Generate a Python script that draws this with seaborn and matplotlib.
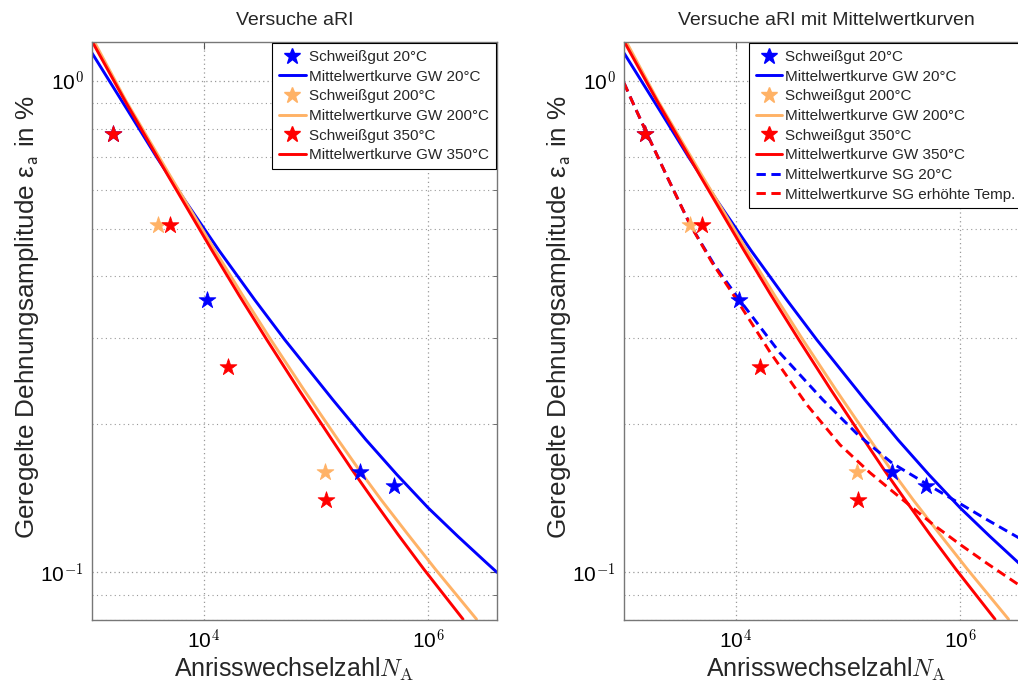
import matplotlib
matplotlib.use("Agg")
import matplotlib.pyplot as plt
import seaborn as sns
import pandas as pd
from matplotlib.lines import Line2D
from matplotlib.ticker import FixedLocator, NullLocator, FixedFormatter

# ---------------- data ----------------
sg20_N = [1540, 10640, 247000, 497000]
sg20_eps = [0.781, 0.359, 0.160, 0.150]
sg200_N = [3882, 120200]
sg200_eps = [0.510, 0.160]
sg350_N = [1540, 4970, 16370, 122700]
sg350_eps = [0.781, 0.508, 0.262, 0.1406]

gw20_N = [1000, 2096, 3805, 6767, 13614, 28540, 52870, 141800, 279500, 528700,
          1.0e6, 1.853e6, 3.296e6, 4.131e6]
gw20_eps = [1.1396, 0.8692, 0.6978, 0.5709, 0.4519, 0.3579, 0.2970, 0.2243, 0.1861,
            0.1580, 0.1354, 0.1183, 0.1048, 0.100]
gw200_N = [1064, 2012, 4971, 12537, 22070, 39651, 78150, 157200, 242000, 380600,
           662900, 1.167e6, 2.710e6]
gw200_eps = [1.194, 0.9107, 0.6417, 0.4519, 0.3664, 0.2970, 0.2350, 0.1861, 0.1618,
             0.1406, 0.1194, 0.1014, 0.0803]
gw350_N = [1021, 1971, 4770, 11788, 20540, 36517, 70520, 138950, 209600, 322800,
           539700, 921000, 2.0535e6]
gw350_eps = [1.194, 0.9107, 0.6417, 0.4519, 0.3664, 0.2970, 0.2350, 0.1861, 0.1618,
             0.1406, 0.1194, 0.1014, 0.0803]

sgm20_N = [1000, 1179, 1605, 2471, 3885, 6362, 10636, 24710, 59820, 122800,
           248000, 497000, 1.0e6, 1.742e6, 3.296e6, 4.131e6]
sgm20_eps = [0.9907, 0.9107, 0.7806, 0.6328, 0.5104, 0.4233, 0.3596, 0.2794, 0.2243,
             0.1905, 0.1668, 0.1516, 0.1380, 0.1280, 0.1178, 0.1140]
sgmT_N = [1000, 1179, 1605, 2471, 3885, 6105, 10205, 20120, 43030, 84850,
          157200, 291300, 574100, 1.0e6, 1.742e6, 3.296e6, 4.131e6]
sgmT_eps = [0.9907, 0.9107, 0.7806, 0.6328, 0.5104, 0.4272, 0.3579, 0.2807, 0.2192,
            0.1818, 0.1595, 0.1420, 0.1252, 0.1140, 0.1043, 0.09455, 0.09152]

titles = ["Versuche aRI", "Versuche aRI mit Mittelwertkurven"]
x_ticks = [1e4, 1e6]
x_ticklabels = ["10$^{\\mathsf{4}}$", "10$^{\\mathsf{6}}$"]
y_ticks = [0.1, 1.0]
y_ticklabels = ["10$^{\\mathsf{-1}}$", "10$^{\\mathsf{0}}$"]

BLUE = "#0000ff"
ORANGE = "#ffb266"
RED = "#ff0000"

# ---------------- style ----------------
sns.set_theme(style="white")
plt.rcParams["font.family"] = ["Liberation Sans", "DejaVu Sans"]
plt.rcParams["mathtext.fontset"] = "cm"

W, H = 1018, 682
fig = plt.figure(figsize=(W / 100, H / 100), dpi=100)
fig.patch.set_facecolor("white")

axL = fig.add_axes([92 / W, (H - 620) / H, 405 / W, 578 / H])
axR = fig.add_axes([624 / W, (H - 620) / H, 405 / W, 578 / H])

LW = 2.1
MS = 160
DASH = (3.2, 1.9)


def line(ax, xs, ys, color, dashed=False):
    df = pd.DataFrame({"N": xs, "eps": ys})
    sns.lineplot(data=df, x="N", y="eps", ax=ax, color=color, lw=LW,
                 sort=False, estimator=None, legend=False)
    ln = ax.lines[-1]
    if dashed:
        ln.set_dashes(DASH)
    ln.set_solid_joinstyle("round")
    return ln


def stars(ax, xs, ys, color):
    df = pd.DataFrame({"N": xs, "eps": ys})
    sns.scatterplot(data=df, x="N", y="eps", ax=ax, color=color, marker="*",
                    s=MS, edgecolor=color, linewidth=0.6, legend=False, zorder=5)


for i, ax in enumerate([axL, axR]):
    ax.set_xscale("log")
    ax.set_yscale("log")
    line(ax, gw20_N, gw20_eps, BLUE)
    line(ax, gw200_N, gw200_eps, ORANGE)
    line(ax, gw350_N, gw350_eps, RED)
    if i == 1:
        line(ax, sgm20_N, sgm20_eps, BLUE, dashed=True)
        line(ax, sgmT_N, sgmT_eps, RED, dashed=True)
    stars(ax, sg20_N, sg20_eps, BLUE)
    stars(ax, sg200_N, sg200_eps, ORANGE)
    stars(ax, sg350_N, sg350_eps, RED)

    ax.set_xlim(1000, 4.13e6)
    ax.set_ylim(0.08, 1.2)

    ax.xaxis.set_major_locator(FixedLocator(x_ticks))
    ax.xaxis.set_major_formatter(FixedFormatter(x_ticklabels))
    ax.xaxis.set_minor_locator(NullLocator())
    ax.yaxis.set_major_locator(FixedLocator(y_ticks))
    ax.yaxis.set_major_formatter(FixedFormatter(y_ticklabels))
    ax.yaxis.set_minor_locator(FixedLocator([0.08, 0.09] + [k / 10 for k in range(2, 10)]))
    ax.yaxis.set_minor_formatter(FixedFormatter([""] * 10))

    ax.tick_params(which="both", direction="in", top=True, right=True,
                   colors="#555555", labelcolor="black", labelsize=15)
    ax.tick_params(which="major", length=5, width=0.8, pad=6)
    ax.tick_params(which="minor", length=3, width=0.6)
    for s in ax.spines.values():
        s.set_color("#777777")
        s.set_linewidth(1.0)

    ax.grid(True, which="major", axis="both", ls=(0, (1, 2.5)), color="#999999", lw=0.9)
    ax.grid(True, which="minor", axis="y", ls=(0, (1, 3)), color="#999999", lw=0.8)
    ax.set_axisbelow(True)

    ax.set_title(titles[i], fontsize=14, pad=12)
    ax.set_xlabel("Anrisswechselzahl$N_\\mathrm{A}$", fontsize=18, labelpad=2)
    ax.set_ylabel("Geregelte Dehnungsamplitude ε$_{\\mathsf{a}}$ in %", fontsize=18.8)
    ax.yaxis.set_label_coords(-0.125, 0.525)

    handles = [
        Line2D([], [], ls="none", marker="*", ms=12, color=BLUE, mec=BLUE),
        Line2D([], [], color=BLUE, lw=LW),
        Line2D([], [], ls="none", marker="*", ms=12, color=ORANGE, mec=ORANGE),
        Line2D([], [], color=ORANGE, lw=LW),
        Line2D([], [], ls="none", marker="*", ms=12, color=RED, mec=RED),
        Line2D([], [], color=RED, lw=LW),
    ]
    labels = ["Schweißgut 20°C", "Mittelwertkurve GW 20°C",
              "Schweißgut 200°C", "Mittelwertkurve GW 200°C",
              "Schweißgut 350°C", "Mittelwertkurve GW 350°C"]
    anchor_x = 0.997
    if i == 1:
        handles += [Line2D([], [], color=BLUE, lw=LW, dashes=DASH),
                    Line2D([], [], color=RED, lw=LW, dashes=DASH)]
        labels += ["Mittelwertkurve SG 20°C", "Mittelwertkurve SG erhöhte Temp."]
        anchor_x = 0.984
    leg = ax.legend(handles, labels, loc="upper right", bbox_to_anchor=(anchor_x, 0.998),
                    fontsize=11, frameon=True, fancybox=False, framealpha=1,
                    edgecolor="black", borderpad=0.45, labelspacing=0.37,
                    handlelength=1.75, handletextpad=0.2, borderaxespad=0.0)
    leg.get_frame().set_linewidth(0.8)

fig.savefig("out.png", dpi=100)
